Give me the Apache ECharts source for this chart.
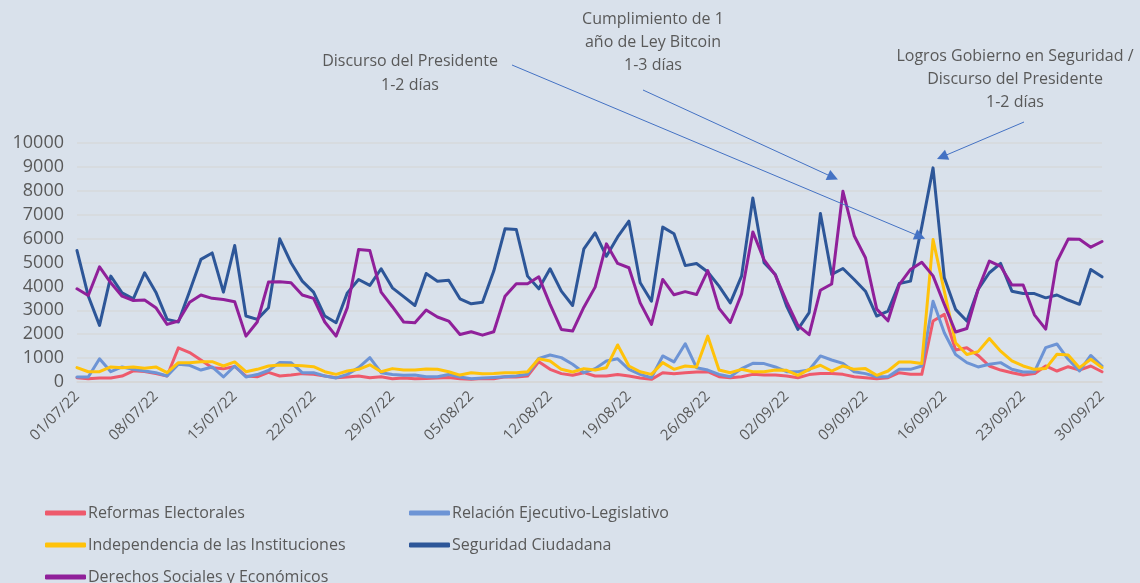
<!DOCTYPE html>
<html>
<head>
<meta charset="utf-8">
<script src="https://cdn.jsdelivr.net/npm/echarts@6/dist/echarts.min.js"></script>
<style>
  html, body { margin: 0; padding: 0; background: #d9e1eb; }
  #chart { width: 1140px; height: 583px; }
</style>
</head>
<body>
<div id="chart"></div>
<script>
// fechas diarias 01/07/22 - 30/09/22
const months = [['07', 31], ['08', 31], ['09', 30]]
const categories = []
months.forEach(([m, n]) => {
  for (let d = 1; d <= n; d++) categories.push(String(d).padStart(2, '0') + '/' + m + '/22')
})

const yTicks = { min: 0, max: 10000, step: 1000 }

// valores
const reformas = [
  180, 140, 170, 170, 250, 470, 440, 350, 250, 1430, 1230, 920, 600, 550, 650, 250, 220, 400, 250, 290,
  350, 320, 250, 180, 210, 250, 180, 220, 140, 170, 140, 150, 170, 190, 140, 110, 150, 140, 220, 210,
  250, 850, 530, 350, 280, 390, 250, 250, 310, 250, 170, 110, 390, 350, 390, 420, 430, 220, 180, 220,
  320, 290, 290, 250, 180, 310, 360, 360, 320, 220, 180, 140, 180, 390, 320, 320, 2550, 2830, 1340, 1430,
  1110, 670, 500, 390, 290, 350, 670, 460, 640, 500, 670, 430
]
const relacion = [
  210, 210, 970, 430, 630, 530, 460, 390, 250, 740, 700, 500, 630, 210, 670, 210, 310, 480, 820, 810,
  390, 390, 250, 170, 320, 600, 1020, 390, 310, 280, 290, 220, 220, 310, 210, 140, 170, 190, 220, 250,
  320, 990, 1130, 1020, 740, 390, 560, 880, 970, 530, 320, 180, 1090, 840, 1600, 600, 500, 320, 220, 560,
  780, 770, 630, 430, 430, 500, 1090, 920, 780, 430, 350, 220, 220, 530, 530, 670, 3380, 2060, 1150, 810,
  630, 740, 810, 530, 420, 420, 1440, 1590, 950, 460, 1110, 670
]
const independencia = [
  600, 430, 430, 630, 600, 630, 580, 630, 390, 810, 810, 850, 850, 670, 840, 430, 530, 670, 710, 700,
  680, 640, 430, 320, 460, 530, 720, 430, 560, 500, 500, 540, 530, 430, 290, 390, 350, 360, 390, 390,
  430, 970, 880, 530, 420, 560, 500, 600, 1550, 670, 430, 320, 810, 530, 670, 630, 1920, 500, 390, 530,
  430, 430, 500, 490, 280, 530, 700, 460, 670, 530, 560, 280, 460, 840, 840, 770, 5960, 3800, 1640, 1150,
  1270, 1820, 1290, 880, 670, 530, 560, 1160, 1130, 600, 950, 600
]
const seguridad = [
  5500, 3600, 2370, 4430, 3730, 3480, 4570, 3760, 2620, 2510, 3800, 5130, 5400, 3760, 5710, 2760, 2620, 3110, 5990, 4990,
  4220, 3760, 2760, 2480, 3730, 4290, 4040, 4740, 3940, 3570, 3200, 4540, 4220, 4260, 3480, 3270, 3340, 4640, 6410, 6380,
  4430, 3900, 4740, 3800, 3200, 5570, 6240, 5260, 6070, 6730, 4150, 3380, 6480, 6200, 4870, 4960, 4600, 4010, 3310, 4430,
  7700, 4990, 4500, 3180, 2200, 2900, 7050, 4500, 4750, 4290, 3800, 2760, 2970, 4120, 4220, 6500, 8960, 4360, 3040, 2550,
  3870, 4570, 4960, 3800, 3700, 3700, 3520, 3640, 3430, 3250, 4710, 4400
]
const derechos = [
  3900, 3620, 4820, 4150, 3590, 3410, 3430, 3110, 2410, 2550, 3340, 3640, 3500, 3450, 3360, 1920, 2510, 4180, 4190, 4150,
  3640, 3500, 2510, 1920, 3110, 5540, 5500, 3760, 3150, 2510, 2480, 3010, 2720, 2550, 1990, 2100, 1960, 2100, 3590, 4110,
  4110, 4400, 3250, 2200, 2130, 3130, 3970, 5780, 4960, 4780, 3310, 2410, 4290, 3650, 3780, 3660, 4660, 3080, 2490, 3680,
  6280, 5110, 4470, 3360, 2370, 1980, 3840, 4100, 7980, 6120, 5200, 3050, 2560, 4070, 4710, 5010, 4440, 3250, 2090, 2240,
  3870, 5060, 4840, 4060, 4060, 2810, 2210, 5040, 5980, 5970, 5640, 5880
]

const names = [
  'Reformas Electorales',
  'Relación Ejecutivo-Legislativo',
  'Independencia de las Instituciones',
  'Seguridad Ciudadana',
  'Derechos Sociales y Económicos',
]
const colors = ['#ee5a6c', '#6d94d5', '#ffc20a', '#2d5698', '#90209a']
const values = [reformas, relacion, independencia, seguridad, derechos]

// anotaciones: [texto, indice de serie, dia]
const notes = [
  ['Discurso del Presidente\n1-2 días', 2, 76],
  ['Cumplimiento de 1\naño de Ley Bitcoin\n1-3 días', 4, 68],
  ['Logros Gobierno en Seguridad /\nDiscurso del Presidente\n1-2 días', 3, 76],
]

const textColor = '#595959'
const font = '"Open Sans", "Liberation Sans", sans-serif'

const chart = echarts.init(document.getElementById('chart'))

const legendStyle = {
  orient: 'vertical',
  icon: 'roundRect',
  itemWidth: 41,
  itemHeight: 5,
  itemGap: 16,
  top: 500,
  height: 150,
  textStyle: { color: textColor, fontSize: 16, fontFamily: font, lineHeight: 16, padding: [0, 0, 0, -3] },
}

chart.setOption({
  backgroundColor: '#d9e1eb',
  animation: false,
  color: colors,
  grid: { left: 77, right: 38, top: 143, bottom: 201 },
  legend: [
    Object.assign({ left: 40, data: [names[0], names[2], names[4]] }, legendStyle),
    Object.assign({ left: 404, data: [names[1], names[3]] }, legendStyle),
  ],
  xAxis: {
    type: 'category',
    data: categories,
    boundaryGap: false,
    axisLine: { show: true, lineStyle: { color: '#d6d6d6', width: 1.5 } },
    axisTick: { show: false },
    axisLabel: {
      interval: 6,
      rotate: 45,
      margin: 12,
      color: textColor,
      fontSize: 15,
      fontFamily: font,
    },
  },
  yAxis: {
    type: 'value',
    min: yTicks.min,
    max: yTicks.max,
    interval: yTicks.step,
    axisLine: { show: false },
    axisTick: { show: false },
    splitLine: { lineStyle: { color: '#d6d8db', width: 1.5 } },
    axisLabel: { color: textColor, fontSize: 18, fontFamily: font, margin: 13, formatter: v => String(v) },
  },
  series: values.map((v, i) => ({
    id: 's' + i,
    name: names[i],
    type: 'line',
    data: v,
    symbol: 'none',
    lineStyle: { width: 3, color: colors[i], cap: 'round', join: 'round' },
    itemStyle: { color: colors[i] },
  })),
})

// flechas de anotacion: inicio junto al texto, punta junto al pico
const starts = [[512, 65], [643, 90], [1024, 122]]
const tipOffsets = [[-13, -3], [-10, -14], [9, -11]]
const arrows = notes.map((n, k) => {
  const p = chart.convertToPixel({ seriesIndex: n[1] }, [n[2], values[n[1]][n[2]]])
  return [
    { x: starts[k][0], y: starts[k][1] },
    { x: p[0] + tipOffsets[k][0], y: p[1] + tipOffsets[k][1] },
  ]
})

const textPos = [[410, 49, 24], [653, 8, 23], [1015, 45, 23]]

chart.setOption({
  series: [{
    id: 's3',
    markLine: {
      silent: true,
      animation: false,
      symbol: ['none', 'triangle'],
      symbolSize: [11, 11],
      label: { show: false },
      lineStyle: { color: '#4472c4', width: 1, type: 'solid' },
      emphasis: { disabled: true },
      data: arrows,
    },
  }],
  graphic: notes.map((n, k) => ({
    type: 'text',
    x: textPos[k][0],
    y: textPos[k][1],
    silent: true,
    style: {
      text: n[0],
      fill: textColor,
      font: '16px ' + font,
      lineHeight: textPos[k][2],
      textAlign: 'center',
      textVerticalAlign: 'top',
    },
  })),
})
</script>
</body>
</html>
